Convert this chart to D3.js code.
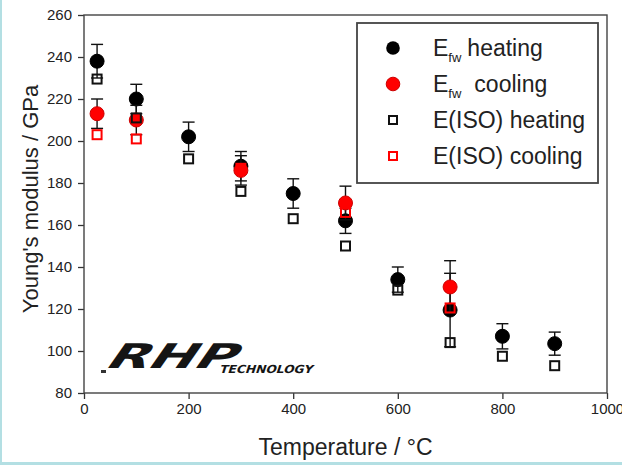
<!DOCTYPE html>
<html>
<head>
<meta charset="utf-8">
<script src="https://cdn.jsdelivr.net/npm/d3@7"></script>
<style>
body{margin:0;background:#fff}
svg{display:block;font-family:"Liberation Sans",Arial,sans-serif}
</style>
</head>
<body>
<svg id="chart" width="622" height="465"></svg>
<script>
// values
var heatTemps = [25, 100, 200, 300, 400, 500, 600, 700, 800, 900]
var heatVals = [238, 220, 202, 188, 175, 162, 134, 119.5, 107, 103.5]
var heatErr = [8, 7, 7, 7, 7, 6, 6, 17.5, 6, 5.5]
var coolTemps = [25, 100, 300, 500, 700]
var coolVals = [213, 210, 186, 170.5, 130.5]
var coolErr = [7, 7, 7, 8, 12.5]
var isoHeatVals = [229.5, 211, 191.5, 176, 163, 150, 129, 104, 97.5, 93]
var isoCoolVals = [203, 201, 187, 166, 120.5]
var xTicks = [0, 200, 400, 600, 800, 1000]
var yTicks = [80, 100, 120, 140, 160, 180, 200, 220, 240, 260]

var svg = d3.select('#chart'),
    plotLeft = 84, plotRight = 607, plotTop = 15, plotBottom = 393,
    x = d3.scaleLinear().domain([0, 1000]).range([plotLeft, plotRight]),
    y = d3.scaleLinear().domain([80, 260]).range([plotBottom, plotTop])

// light frame of the original screenshot
svg.append('rect').attr('x', 0).attr('y', 0).attr('width', 2).attr('height', 465).attr('fill', '#b3dfe3')
svg.append('rect').attr('x', 0).attr('y', 462).attr('width', 622).attr('height', 3).attr('fill', '#b3dfe3')

// axes
svg.append('g')
    .attr('transform', 'translate(0,' + plotBottom + ')')
    .call(d3.axisBottom(x).tickValues(xTicks).tickSize(6).tickPadding(4).tickFormat(d3.format('d')))
svg.append('g')
    .attr('transform', 'translate(' + plotLeft + ',0)')
    .call(d3.axisLeft(y).tickValues(yTicks).tickSize(6).tickPadding(6))
svg.selectAll('.tick text').attr('font-size', 15).attr('fill', '#222').attr('font-family', '"Liberation Sans",Arial,sans-serif')
svg.selectAll('.domain').remove()
svg.selectAll('.tick line').attr('stroke', '#333').attr('stroke-width', 1.3)

svg.append('rect')
    .attr('x', plotLeft).attr('y', plotTop)
    .attr('width', plotRight - plotLeft).attr('height', plotBottom - plotTop)
    .attr('fill', 'none').attr('stroke', '#444').attr('stroke-width', 1.4)

// titles
svg.append('text')
    .attr('x', (plotLeft + plotRight) / 2).attr('y', 455)
    .attr('text-anchor', 'middle').attr('font-size', 23).attr('fill', '#222')
    .text('Temperature / °C')
svg.append('text')
    .attr('transform', 'translate(38,199) rotate(-90)')
    .attr('text-anchor', 'middle').attr('font-size', 22).attr('fill', '#222')
    .text("Young's modulus / GPa")

// logo
var logo = svg.append('g')
logo.append('text')
    .attr('transform', 'translate(103,368) skewX(-35)')
    .attr('font-family', '"DejaVu Sans",sans-serif').attr('font-weight', 'bold')
    .attr('font-size', 34).attr('textLength', 128).attr('lengthAdjust', 'spacingAndGlyphs')
    .attr('fill', '#151515')
    .text('RHP')
logo.append('text')
    .attr('transform', 'translate(219,373) skewX(-18)')
    .attr('font-family', '"DejaVu Sans",sans-serif').attr('font-weight', 'bold')
    .attr('font-size', 11).attr('textLength', 93).attr('lengthAdjust', 'spacingAndGlyphs')
    .attr('fill', '#151515')
    .text('TECHNOLOGY')
logo.append('rect').attr('x', 101).attr('y', 370).attr('width', 5).attr('height', 3).attr('fill', '#333')

// error bars
function errorBars(temps, vals, errs){
    var g = svg.append('g').attr('stroke', '#111').attr('stroke-width', 1.4)
    temps.forEach(function(t, i){
        var cx = x(t)
        g.append('line').attr('x1', cx).attr('x2', cx).attr('y1', y(vals[i] - errs[i])).attr('y2', y(vals[i] + errs[i]))
        g.append('line').attr('x1', cx - 6).attr('x2', cx + 6).attr('y1', y(vals[i] + errs[i])).attr('y2', y(vals[i] + errs[i]))
        g.append('line').attr('x1', cx - 6).attr('x2', cx + 6).attr('y1', y(vals[i] - errs[i])).attr('y2', y(vals[i] - errs[i]))
    })
}

function circles(temps, vals, color){
    svg.append('g').selectAll('circle')
        .data(temps)
        .join('circle')
        .attr('cx', (d)=>x(d))
        .attr('cy', (d, i)=>y(vals[i]))
        .attr('r', 7)
        .attr('fill', color)
        .attr('stroke', color == 'red' ? '#c00' : '#000')
        .attr('stroke-width', 1)
}

function squares(temps, vals, color){
    var s = 9
    svg.append('g').selectAll('rect')
        .data(temps)
        .join('rect')
        .attr('x', (d)=>x(d) - s / 2)
        .attr('y', (d, i)=>y(vals[i]) - s / 2)
        .attr('width', s).attr('height', s)
        .attr('fill', 'none')
        .attr('stroke', color)
        .attr('stroke-width', 2)
}

errorBars(heatTemps, heatVals, heatErr)
circles(heatTemps, heatVals, '#000')
errorBars(coolTemps, coolVals, coolErr)
circles(coolTemps, coolVals, 'red')
squares(heatTemps, isoHeatVals, '#111')
squares(coolTemps, isoCoolVals, 'red')

// legend
var legend = svg.append('g')
legend.append('rect')
    .attr('x', 357).attr('y', 23).attr('width', 241).attr('height', 160)
    .attr('fill', '#fff').attr('stroke', '#444').attr('stroke-width', 1.8)

var legendRows = [48, 84, 120, 156]
legend.append('circle').attr('cx', 393).attr('cy', legendRows[0]).attr('r', 6.8).attr('fill', '#000')
legend.append('circle').attr('cx', 393).attr('cy', legendRows[1]).attr('r', 6.8).attr('fill', 'red').attr('stroke', '#c00')
legend.append('rect').attr('x', 389).attr('y', legendRows[2] - 4).attr('width', 8).attr('height', 8)
    .attr('fill', 'none').attr('stroke', '#111').attr('stroke-width', 2)
legend.append('rect').attr('x', 389).attr('y', legendRows[3] - 4).attr('width', 8).attr('height', 8)
    .attr('fill', 'none').attr('stroke', 'red').attr('stroke-width', 2)

function fwLabel(row, word, gap){
    var t = legend.append('text').attr('x', 433).attr('y', legendRows[row] + 8)
        .attr('font-size', 23).attr('fill', '#222')
    t.append('tspan').text('E')
    t.append('tspan').attr('font-size', 13).attr('dy', 6).text('fw')
    t.append('tspan').attr('dy', -6).attr('dx', gap).text(word)
}
fwLabel(0, 'heating', 6)
fwLabel(1, 'cooling', 13)
legend.append('text').attr('x', 433).attr('y', legendRows[2] + 8)
    .attr('font-size', 23).attr('fill', '#222').text('E(ISO) heating')
legend.append('text').attr('x', 433).attr('y', legendRows[3] + 8)
    .attr('font-size', 23).attr('fill', '#222').text('E(ISO) cooling')
</script>
</body>
</html>
